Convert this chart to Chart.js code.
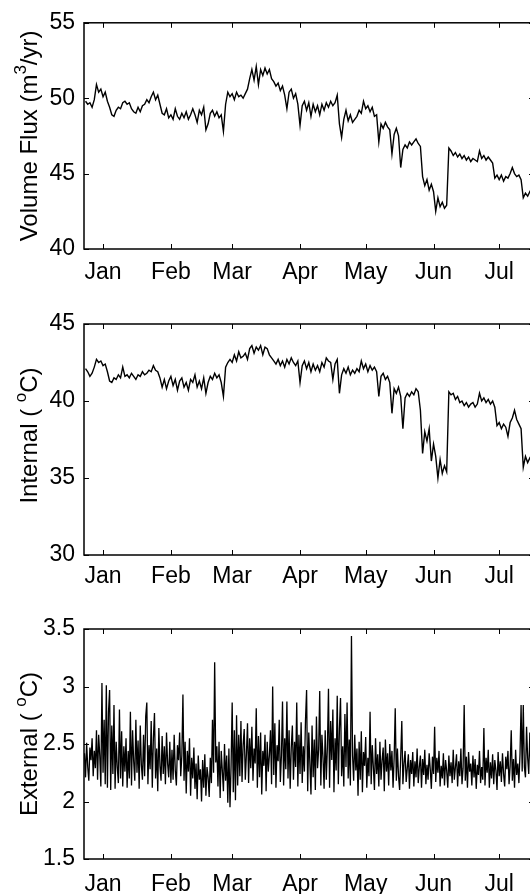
<!DOCTYPE html>
<html>
<head>
<meta charset="utf-8">
<script src="https://cdn.jsdelivr.net/npm/chart.js@4.4.1/dist/chart.umd.min.js"></script>
<style>
  html, body { margin: 0; padding: 0; background: #fff; width: 530px; height: 894px; overflow: hidden; }
  .panel { position: absolute; left: 0; }
</style>
</head>
<body>
<div class="panel" style="top:0px"><canvas id="flux" width="545" height="300"></canvas></div>
<div class="panel" style="top:300px"><canvas id="internal" width="545" height="300"></canvas></div>
<div class="panel" style="top:600px"><canvas id="external" width="545" height="294"></canvas></div>
<script>
// eje x: dias desde el 1 de enero
const monthLabels = ["Jan", "Feb", "Mar", "Apr", "May", "Jun", "Jul"];
const monthDays = [0, 31, 59, 90, 120, 151, 181];
const xMin = -8.7;
const xMax = 196.9;

// Volume Flux (una lectura por dia desde el dia -8)
const fluxStart = -8;
const fluxValues = [
  49.8, 49.6, 49.7, 49.4, 49.9, 50.9, 50.4, 50.6, 50.1, 50.4,
  49.8, 49.4, 48.9, 48.8, 49.2, 49.4, 49.3, 49.7, 49.8, 49.6,
  49.7, 49.3, 49.1, 49.0, 49.4, 49.1, 49.5, 49.6, 49.9, 49.7,
  50.1, 50.4, 49.9, 50.2, 49.6, 49.0, 48.9, 49.3, 48.7, 48.9,
  48.6, 49.3, 48.8, 48.6, 49.0, 48.7, 49.1, 48.6, 48.9, 49.3,
  48.9, 48.4, 49.2, 48.9, 49.4, 47.9, 48.3, 49.0, 49.2, 48.8,
  49.1, 48.7, 48.9, 47.8, 49.6, 50.4, 50.1, 50.3, 49.9, 50.4,
  50.1, 50.2, 50.0, 50.3, 50.6, 51.3, 51.9, 51.2, 52.1, 50.9,
  51.9, 51.5, 52.0, 51.6, 51.9, 51.3, 51.1, 50.8, 51.0, 50.5,
  50.8, 50.2, 49.3, 50.4, 50.6, 50.0, 50.3, 49.6, 48.2, 49.5,
  49.8, 49.2, 49.7, 48.8, 49.6, 49.1, 49.5, 48.9, 49.6, 49.2,
  49.7, 49.4, 49.8, 49.5, 49.7, 50.2, 48.3, 47.4, 48.6, 49.2,
  48.5, 48.9, 48.4, 48.6, 48.8, 49.2, 49.0, 49.8, 49.3, 49.5,
  49.1, 49.4, 48.8, 48.9, 47.1, 48.3, 48.0, 48.4, 48.1, 47.9,
  46.3, 47.6, 48.0, 47.5, 45.4, 46.6, 46.9, 46.7, 47.1, 46.9,
  47.1, 47.3, 47.0, 46.8, 44.8, 44.2, 44.6, 43.9, 44.3, 43.8,
  42.5, 43.4, 42.8, 43.1, 42.7, 42.9, 46.7, 46.5, 46.2, 46.4,
  46.1, 46.3, 46.0, 46.2, 45.9, 46.1, 45.8, 46.0, 45.9, 45.8,
  46.5, 46.0, 46.2, 45.9, 46.1, 45.9, 45.7, 44.7, 44.9, 44.6,
  44.9, 44.5, 44.8, 44.7, 45.0, 45.4, 45.0, 44.8, 44.9, 44.6,
  43.4, 43.7, 43.5, 43.8, 43.6
];

// Internal (una lectura por dia desde el dia -8)
const internalStart = -8;
const internalValues = [
  42.1, 41.9, 41.6, 41.8, 42.2, 42.7, 42.5, 42.6, 42.3, 42.4,
  41.9, 41.3, 41.2, 41.5, 41.4, 41.7, 41.5, 42.2, 41.6, 41.7,
  41.5, 41.8, 41.6, 41.4, 41.7, 41.6, 41.9, 41.7, 41.8, 42.0,
  41.9, 42.3, 42.0, 41.9, 41.5, 40.9, 41.4, 40.8, 41.3, 41.6,
  41.0, 41.4, 40.7, 41.3, 41.5, 40.9, 41.2, 40.7, 41.4, 41.2,
  41.7, 40.9, 41.3, 40.8, 41.5, 40.5, 41.2, 41.6, 41.4, 41.8,
  41.5, 41.7, 41.2, 40.3, 42.2, 42.5, 42.7, 42.5, 43.0, 42.6,
  43.2, 42.8, 42.9, 43.1, 42.7, 43.4, 43.6, 43.1, 43.5, 43.3,
  43.6, 43.0, 43.5, 43.4, 43.0, 42.8, 42.6, 42.4, 42.7, 42.3,
  42.6, 42.2, 42.7, 42.4, 42.8, 42.5, 42.3, 42.6, 41.2, 42.3,
  42.6, 42.1, 42.5, 41.9, 42.4, 42.0, 42.3, 41.9, 42.5, 42.2,
  42.8, 42.6, 42.5, 41.4, 42.4, 42.7, 40.5, 41.7, 42.1, 41.8,
  42.2, 41.7, 42.0, 41.8, 42.1, 41.9, 42.6, 42.1, 42.4, 41.9,
  42.3, 42.0, 42.2, 41.9, 40.3, 41.6, 41.8, 41.4, 41.6, 41.2,
  39.2, 40.8, 40.5, 40.9, 40.3, 38.2, 40.2, 40.5, 40.3, 40.6,
  40.4, 40.8, 40.6, 39.4, 36.6, 38.0, 37.4, 38.2, 36.1, 37.2,
  36.4, 35.0, 36.2, 35.3, 35.8, 35.4, 40.6, 40.4, 40.5, 40.1,
  40.3, 39.9, 40.0, 39.7, 39.9, 39.6, 39.8, 39.9, 39.6, 39.8,
  40.5, 40.0, 40.2, 39.9, 40.1, 39.8, 40.0, 39.6, 38.4, 38.6,
  38.2, 38.5, 38.3, 37.7, 38.6, 38.9, 39.4, 38.8, 38.5, 38.2,
  35.7, 36.4, 36.0, 36.3, 36.1
];

// External (dos lecturas por dia desde el dia -8.5)
const externalStart = -8.5;
const externalStep = 0.5;
const externalValues = [
  2.42, 2.21, 2.51, 2.30, 2.18, 2.47, 2.36, 2.55, 2.22, 2.44, 2.29, 2.62, 2.19, 2.58, 2.40, 2.13, 3.03, 2.25, 2.71, 2.15,
  3.01, 2.12, 2.78, 2.97, 2.10, 2.66, 2.24, 2.84, 2.11, 2.52, 2.30, 2.16, 2.80, 2.20, 2.61, 2.13, 2.48, 2.26, 2.55, 2.12,
  2.44, 2.20, 2.78, 2.14, 2.62, 2.35, 2.18, 2.71, 2.25, 2.53, 2.11, 2.66, 2.32, 2.19, 2.58, 2.22, 2.74, 2.86, 2.15, 2.49,
  2.28, 2.70, 2.12, 2.55, 2.77, 2.20, 2.46, 2.09, 2.64, 2.31, 2.18, 2.57, 2.24, 2.48, 2.15, 2.60, 2.33, 2.21, 2.52, 2.16,
  2.45, 2.19, 2.58, 2.27, 2.14, 2.49, 2.36, 2.60, 2.22, 2.40, 2.93, 2.18, 2.52, 2.07, 2.44, 2.26, 2.55, 2.05, 2.38, 2.20,
  2.47, 2.11, 2.33, 2.02, 2.40, 2.19, 2.28, 2.00, 2.36, 2.12, 2.41, 2.05, 2.30, 2.21, 2.04, 2.38, 2.16, 2.71, 2.25, 3.21,
  2.34, 2.48, 2.13, 2.52, 2.03, 2.44, 2.27, 2.09, 2.50, 2.18, 2.40, 1.99, 2.46, 1.95, 2.31, 2.86, 2.08, 2.62, 2.01, 2.75,
  2.14, 2.58, 2.22, 2.70, 2.17, 2.49, 2.63, 2.19, 2.41, 2.68, 2.16, 2.55, 2.29, 2.65, 2.18, 2.46, 2.33, 2.81, 2.12, 2.57,
  2.21, 2.60, 2.06, 2.44, 2.31, 2.58, 2.09, 2.52, 2.26, 2.40, 2.62, 2.15, 3.00, 2.23, 2.68, 2.12, 2.49, 2.35, 2.71, 2.17,
  2.40, 2.87, 2.14, 2.55, 2.28, 2.87, 2.20, 2.62, 2.11, 2.47, 2.66, 2.19, 2.52, 2.30, 2.86, 2.13, 2.58, 2.24, 2.69, 2.16,
  2.48, 2.26, 2.71, 2.97, 2.09, 2.60, 2.33, 2.06, 2.66, 2.21, 2.54, 2.10, 2.74, 2.29, 2.45, 2.96, 2.14, 2.58, 2.38, 2.11,
  2.62, 2.19, 2.47, 2.98, 2.12, 2.70, 2.36, 2.80, 2.08, 2.55, 2.27, 2.92, 2.15, 2.63, 2.90, 2.22, 2.48, 2.13, 2.76, 2.30,
  2.86, 2.20, 2.54, 2.14, 3.44, 2.40, 2.18, 2.58, 2.27, 2.46, 2.05, 2.52, 2.19, 2.61, 2.08, 2.43, 2.31, 2.56, 2.12, 2.38,
  2.22, 2.78, 2.15, 2.49, 2.30, 2.10, 2.55, 2.24, 2.41, 2.13, 2.52, 2.19, 2.36, 2.47, 2.09, 2.54, 2.26, 2.42, 2.14, 2.50,
  2.27, 2.44, 2.12, 2.38, 2.81, 2.18, 2.46, 2.22, 2.10, 2.39, 2.70, 2.15, 2.33, 2.44, 2.17, 2.29, 2.41, 2.11, 2.36, 2.24,
  2.43, 2.13, 2.35, 2.21, 2.46, 2.16, 2.30, 2.40, 2.12, 2.37, 2.23, 2.45, 2.15, 2.32, 2.19, 2.42, 2.28, 2.11, 2.39, 2.24,
  2.65, 2.17, 2.38, 2.25, 2.44, 2.13, 2.31, 2.20, 2.42, 2.14, 2.36, 2.27, 2.12, 2.40, 2.22, 2.34, 2.16, 2.45, 2.19, 2.30,
  2.41, 2.13, 2.35, 2.22, 2.46, 2.15, 2.29, 2.84, 2.18, 2.39, 2.12, 2.43, 2.26, 2.33, 2.14, 2.40, 2.21, 2.37, 2.11, 2.32,
  2.23, 2.44, 2.16, 2.30, 2.19, 2.64, 2.14, 2.38, 2.25, 2.45, 2.12, 2.34, 2.20, 2.41, 2.15, 2.36, 2.27, 2.10, 2.43, 2.22,
  2.35, 2.17, 2.42, 2.24, 2.13, 2.39, 2.28, 2.44, 2.15, 2.31, 2.62, 2.18, 2.37, 2.12, 2.45, 2.23, 2.33, 2.16, 2.41, 2.84,
  2.26, 2.84, 2.30, 2.21, 2.65, 2.38, 2.24, 2.60, 2.28, 2.47
];

const fontFamily = "'Liberation Sans', Arial, Helvetica, sans-serif";
Chart.defaults.font.family = fontFamily;
Chart.defaults.font.size = 23;
Chart.defaults.color = "#000";

function toPoints(start, step, values) {
  return values.map((v, i) => ({ x: start + i * step, y: v }));
}

// caja estilo matlab con ticks hacia dentro
const boxPlugin = {
  id: "boxPlugin",
  afterDatasetsDraw(chart) {
    const { ctx, chartArea: a, scales } = chart;
    ctx.save();
    ctx.strokeStyle = "#000";
    ctx.lineWidth = 1.5;
    ctx.strokeRect(a.left, a.top, a.right - a.left, a.bottom - a.top);
    ctx.lineWidth = 1;
    ctx.beginPath();
    scales.x.ticks.forEach((t) => {
      const px = Math.round(scales.x.getPixelForValue(t.value)) + 0.5;
      ctx.moveTo(px, a.bottom);
      ctx.lineTo(px, a.bottom - 5);
      ctx.moveTo(px, a.top);
      ctx.lineTo(px, a.top + 5);
    });
    scales.y.ticks.forEach((t) => {
      const py = Math.round(scales.y.getPixelForValue(t.value)) + 0.5;
      ctx.moveTo(a.left, py);
      ctx.lineTo(a.left + 5, py);
      ctx.moveTo(a.right, py);
      ctx.lineTo(a.right - 5, py);
    });
    ctx.stroke();
    ctx.restore();
  },
};

// titulo del eje y con superindice
const yTitlePlugin = {
  id: "yTitle",
  afterDraw(chart, args, opts) {
    const { ctx, chartArea: a } = chart;
    const big = opts.size;
    const small = Math.round(big * 0.7);
    ctx.save();
    ctx.fillStyle = "#000";
    ctx.textBaseline = "middle";
    let total = 0;
    opts.parts.forEach((p) => {
      ctx.font = (p.sup ? small : big) + "px " + fontFamily;
      p.w = ctx.measureText(p.text).width;
      total += p.w;
    });
    ctx.translate(opts.x, (a.top + a.bottom) / 2 + (opts.shift || 0));
    ctx.rotate(-Math.PI / 2);
    let x = -total / 2;
    opts.parts.forEach((p) => {
      ctx.font = (p.sup ? small : big) + "px " + fontFamily;
      ctx.fillText(p.text, x, p.sup ? -big * 0.38 : 0);
      x += p.w;
    });
    ctx.restore();
  },
};

function makePanel(id, points, cfg) {
  new Chart(document.getElementById(id), {
    type: "line",
    data: {
      datasets: [
        {
          data: points,
          borderColor: "#000",
          borderWidth: cfg.lineWidth,
          pointRadius: 0,
          tension: 0,
          fill: false,
        },
      ],
    },
    options: {
      responsive: false,
      animation: false,
      parsing: false,
      layout: { padding: { left: 0, right: 11, top: cfg.top, bottom: 0 } },
      plugins: {
        legend: { display: false },
        tooltip: { enabled: false },
        yTitle: { parts: cfg.title, size: 24, x: 30, shift: cfg.titleShift || 0 },
      },
      scales: {
        x: {
          type: "linear",
          min: xMin,
          max: xMax,
          grid: { display: false, drawTicks: false },
          border: { display: false },
          afterBuildTicks: (scale) => {
            scale.ticks = monthDays.map((d) => ({ value: d }));
          },
          afterFit: (scale) => {
            scale.height = cfg.xHeight;
          },
          ticks: {
            autoSkip: false,
            maxRotation: 0,
            padding: cfg.xPad,
            callback: (v, i) => monthLabels[i],
          },
        },
        y: {
          min: cfg.yMin,
          max: cfg.yMax,
          grid: { display: false, drawTicks: false },
          border: { display: false },
          afterFit: (scale) => {
            scale.width = 84;
          },
          ticks: {
            stepSize: cfg.yStep,
            padding: 9,
            callback: (v) => String(v),
          },
        },
      },
    },
    plugins: [boxPlugin, yTitlePlugin],
  });
}

makePanel("flux", toPoints(fluxStart, 1, fluxValues), {
  top: 19, xHeight: 51, xPad: 10, yMin: 40, yMax: 55, yStep: 5, lineWidth: 1.4,
  title: [{ text: "Volume Flux (m" }, { text: "3", sup: true }, { text: "/yr)" }],
});

makePanel("internal", toPoints(internalStart, 1, internalValues), {
  top: 24, xHeight: 45, xPad: 8, yMin: 30, yMax: 45, yStep: 5, lineWidth: 1.4,
  titleShift: -4,
  title: [{ text: "Internal ( " }, { text: "o", sup: true }, { text: "C)" }],
});

makePanel("external", toPoints(externalStart, externalStep, externalValues), {
  top: 29, xHeight: 35, xPad: 12, yMin: 1.5, yMax: 3.5, yStep: 0.5, lineWidth: 1.3,
  title: [{ text: "External ( " }, { text: "o", sup: true }, { text: "C)" }],
});
</script>
</body>
</html>
